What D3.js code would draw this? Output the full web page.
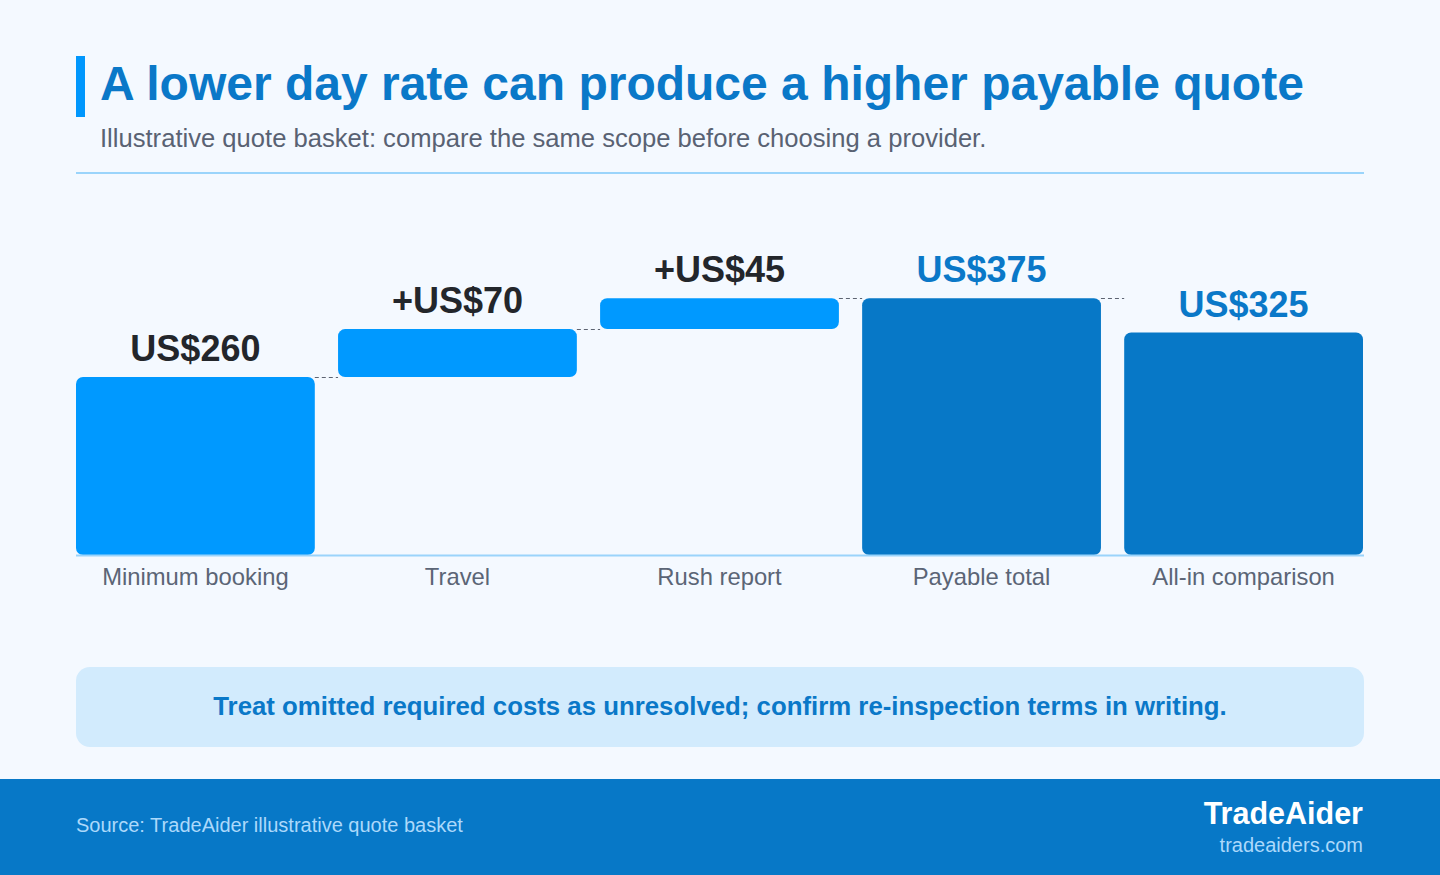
<!DOCTYPE html>
<html>
<head>
<meta charset="utf-8">
<script src="https://cdn.jsdelivr.net/npm/d3@7"></script>
<style>
  html, body { margin: 0; padding: 0; background: #f4f9ff; }
  svg { display: block; font-family: "Liberation Sans", Arial, sans-serif; }
</style>
</head>
<body>
<div id="chart"></div>
<script>
var categories = ["Minimum booking", "Travel", "Rush report", "Payable total", "All-in comparison"];
var values = [260, 70, 45, 375, 325];
var kinds = ["start", "step", "step", "total", "total"];
var valueLabels = ["US$260", "+US$70", "+US$45", "US$375", "US$325"];

var w = 1440;
var h = 875;
var left = 76;
var right = 1364;
var baseY = 555;

// build running totals for the waterfall
var running = 0;
var bars = categories.map(function (c, i) {
  var v = values[i];
  var y0, y1;
  if (kinds[i] === "step") {
    y0 = running;
    y1 = running + v;
    running = y1;
  } else {
    y0 = 0;
    y1 = v;
    if (kinds[i] === "start") running = v;
  }
  return { cat: c, kind: kinds[i], y0: y0, y1: y1, label: valueLabels[i] };
});

var svg = d3.select("#chart").append("svg").attr("width", w).attr("height", h);

svg.append("rect").attr("width", w).attr("height", h).attr("fill", "#f4f9ff");

// header
svg.append("rect").attr("x", 76).attr("y", 56).attr("width", 9).attr("height", 61).attr("fill", "#0097fd");
svg.append("text").attr("x", 100).attr("y", 100)
  .attr("font-size", 48).attr("font-weight", "bold").attr("fill", "#0a78c8")
  .text("A lower day rate can produce a higher payable quote");
svg.append("text").attr("x", 100).attr("y", 147)
  .attr("font-size", 25.6).attr("fill", "#596273")
  .text("Illustrative quote basket: compare the same scope before choosing a provider.");
svg.append("line").attr("x1", left).attr("x2", right).attr("y1", 173).attr("y2", 173)
  .attr("stroke", "#9ad4fb").attr("stroke-width", 2);

var x = d3.scaleBand().domain(categories).range([left, right - 1]).paddingInner(0.0887).paddingOuter(0);
var y = d3.scaleLinear().domain([0, 400]).range([baseY, baseY - 400 * 0.6846]);

// connectors
var g = svg.append("g");
bars.forEach(function (b, i) {
  if (i === bars.length - 1) return;
  var nx = x(bars[i + 1].cat);
  var yy = Math.round(y(b.y1)) + 0.5;
  g.append("line")
    .attr("x1", x(b.cat) + x.bandwidth()).attr("x2", nx)
    .attr("y1", yy).attr("y2", yy)
    .attr("stroke", "#5d6472").attr("stroke-width", 1).attr("stroke-dasharray", "4,3");
});

g.selectAll(".bar").data(bars).enter().append("rect")
  .attr("class", "bar")
  .attr("x", function (d) { return x(d.cat); })
  .attr("y", function (d) { return y(d.y1); })
  .attr("width", x.bandwidth())
  .attr("height", function (d) { return y(d.y0) - y(d.y1); })
  .attr("rx", 7)
  .attr("fill", function (d) { return d.kind === "total" ? "#0778c7" : "#0099ff"; });

g.selectAll(".val").data(bars).enter().append("text")
  .attr("x", function (d) { return x(d.cat) + x.bandwidth() / 2; })
  .attr("y", function (d) { return y(d.y1) - 16; })
  .attr("text-anchor", "middle")
  .attr("font-size", 36).attr("font-weight", "bold")
  .attr("fill", function (d) { return d.kind === "total" ? "#0a78c8" : "#23262b"; })
  .text(function (d) { return d.label; });

svg.append("line").attr("x1", left).attr("x2", right).attr("y1", baseY + 0.5).attr("y2", baseY + 0.5)
  .attr("stroke", "#9ad4fb").attr("stroke-width", 2);

var axis = d3.axisBottom(x).tickSize(0).tickPadding(12);
var ax = svg.append("g").attr("transform", "translate(0," + (baseY + 1) + ")").call(axis);
ax.select(".domain").remove();
ax.selectAll("text").attr("font-size", 23.8).attr("fill", "#5b6576")
  .attr("font-family", "'Liberation Sans', Arial, sans-serif");

// note banner
svg.append("rect").attr("x", left).attr("y", 667).attr("width", right - left).attr("height", 80)
  .attr("rx", 14).attr("fill", "#d2ebfd");
svg.append("text").attr("x", (left + right) / 2).attr("y", 715).attr("text-anchor", "middle")
  .attr("font-size", 25.8).attr("font-weight", "bold").attr("fill", "#0a78c8")
  .text("Treat omitted required costs as unresolved; confirm re-inspection terms in writing.");

// footer
svg.append("rect").attr("x", 0).attr("y", 779).attr("width", w).attr("height", h - 779).attr("fill", "#0778c7");
svg.append("text").attr("x", left).attr("y", 832).attr("font-size", 20).attr("fill", "#acd9fb")
  .text("Source: TradeAider illustrative quote basket");
svg.append("text").attr("x", 1363).attr("y", 824).attr("text-anchor", "end")
  .attr("font-size", 30.5).attr("font-weight", "bold").attr("fill", "#ffffff").text("TradeAider");
svg.append("text").attr("x", 1363).attr("y", 852).attr("text-anchor", "end")
  .attr("font-size", 20).attr("fill", "#acd9fb").text("tradeaiders.com");
</script>
</body>
</html>
